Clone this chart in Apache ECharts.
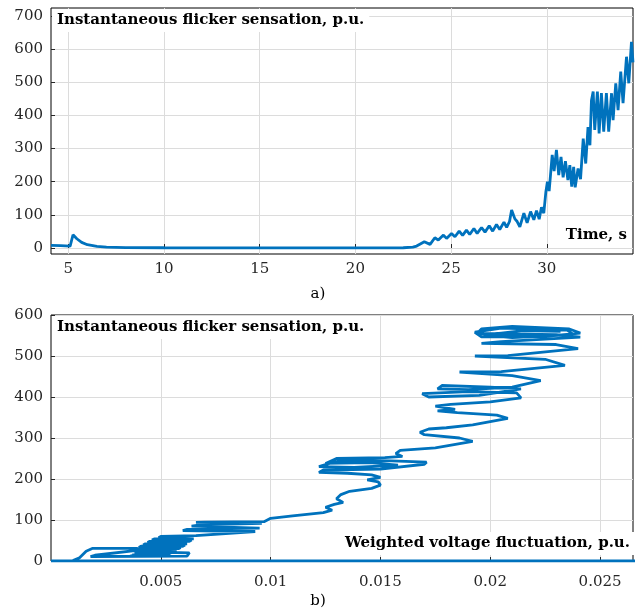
<!DOCTYPE html>
<html lang="en">
<head>
    <meta charset="UTF-8">
    <title>Flicker sensation</title>
    <script src="https://cdn.jsdelivr.net/npm/echarts@6/dist/echarts.min.js"></script>
    <style>
        html, body { margin: 0; padding: 0; background: #fff; }
    </style>
</head>
<body>
<div id="main" style="width: 636px;height:613px;"></div>
<script type="text/javascript">
    // a) flicker sensation vs time
    var timeSec = [4.1, 4.6, 5.1, 5.25, 5.45, 5.7, 6.0, 6.5, 7.0, 8.0, 10, 15, 20, 22.5, 23.0, 23.2, 23.6, 23.9,
        24.15, 24.33, 24.6, 24.76, 25.02, 25.2, 25.42, 25.6, 25.8, 25.97, 26.19, 26.36, 26.59, 26.77, 26.99,
        27.17, 27.37, 27.54, 27.76, 27.9, 28.05, 28.16, 28.33, 28.45, 28.59, 28.8, 28.97, 29.15, 29.32, 29.46,
        29.6, 29.72, 29.84, 29.95, 30.03, 30.12, 30.28, 30.38, 30.5, 30.62, 30.74, 30.85, 30.97, 31.1, 31.2,
        31.3, 31.4, 31.48, 31.63, 31.76, 31.9, 32.03, 32.15, 32.25, 32.33, 32.42, 32.5, 32.64, 32.73, 32.85,
        32.97, 33.11, 33.23, 33.38, 33.46, 33.6, 33.72, 33.86, 33.98, 34.16, 34.28, 34.42, 34.5];
    var flickerA = [8, 7, 6, 40, 28, 17, 10, 5, 3, 1.5, 0.8, 0.5, 0.5, 0.8, 3, 6, 19, 11,
        31, 24, 39, 29, 44, 34, 51, 38, 54, 41, 59, 44, 62, 48, 67,
        51, 71, 56, 78, 62, 80, 115, 88, 80, 64, 105, 76, 110, 85, 113,
        87, 123, 105, 170, 200, 172, 281, 232, 296, 220, 275, 213, 262, 205, 250,
        185, 245, 183, 240, 208, 330, 255, 365, 310, 445, 472, 356, 472, 346, 467,
        351, 467, 351, 467, 386, 497, 416, 532, 437, 577, 497, 622, 560];

    // b) flicker sensation vs weighted voltage fluctuation
    var fluctB = [0, 0.027, 0.0010, 0.0013, 0.0016, 0.0019, 0.0039, 0.0041, 0.0020, 0.0018, 0.0062,
        0.0063, 0.0045,
        0.0036, 0.0052, 0.0053, 0.0037, 0.0037, 0.0054, 0.0055, 0.0038, 0.0038, 0.0056, 0.0057, 0.0039,
        0.0039, 0.0058, 0.0059, 0.0040, 0.0041, 0.0060, 0.0061, 0.0042, 0.0043, 0.0062, 0.0062, 0.0044,
        0.0045, 0.0063, 0.0064, 0.0046, 0.0047, 0.0065, 0.0065, 0.0049, 0.0050, 0.0066,
        0.0093, 0.0060, 0.0062, 0.0095, 0.0064, 0.0068, 0.0096, 0.0066, 0.0070, 0.0097, 0.0100, 0.0110, 0.0124,
        0.0128, 0.0125, 0.0129, 0.0133, 0.0130, 0.0132, 0.0136, 0.0146, 0.0150, 0.0149, 0.0144, 0.0150, 0.0146,
        0.0135, 0.0122, 0.0124, 0.0150, 0.0170, 0.0171, 0.0155, 0.0133, 0.0128, 0.0122, 0.0138, 0.0158, 0.0145,
        0.0125, 0.0130, 0.0152, 0.0160, 0.0157, 0.0159, 0.0175, 0.0192, 0.0186, 0.0170, 0.0168, 0.0172, 0.0180,
        0.0192, 0.0208, 0.0203, 0.0185, 0.0176, 0.0184, 0.0175, 0.0182, 0.0200, 0.0214, 0.0212, 0.0190, 0.0169,
        0.0172, 0.0195, 0.0214, 0.0200, 0.0178, 0.0176, 0.0190, 0.0210, 0.0223, 0.0210, 0.0186, 0.0205, 0.0234,
        0.0225, 0.0193, 0.0208, 0.0240, 0.0230, 0.0196, 0.0205, 0.0241, 0.0230, 0.0194, 0.0196, 0.0210, 0.0236,
        0.0241, 0.0225, 0.0196, 0.0193, 0.0205, 0.0235, 0.0238, 0.0210, 0.0197, 0.0215, 0.0232];
    var flickerB = [0, 0, 1, 8, 24, 31, 31, 27, 14, 11, 12,
        20, 22,
        12, 12, 15, 15, 18, 18, 21, 21, 24, 24, 27, 27,
        30, 30, 33, 33, 36, 36, 39, 39, 42, 42, 45, 45,
        48, 48, 51, 51, 54, 54, 57, 57, 60, 62,
        72, 74, 77, 80, 85, 88, 92, 94, 95, 96, 104, 110, 118,
        124, 131, 138, 143, 152, 162, 170, 177, 185, 193, 198, 204, 210,
        214, 216, 222, 224, 236, 241, 244, 246, 240, 230, 228, 234, 240,
        238, 250, 252, 255, 262, 270, 276, 292, 300, 308, 314, 322, 325,
        332, 348, 356, 362, 366, 370, 378, 382, 388, 398, 410, 413, 408,
        400, 404, 420, 424, 428, 420, 418, 424, 440, 452, 461, 462, 477,
        492, 500, 501, 518, 528, 531, 535, 546, 552, 555, 566, 572, 566,
        556, 548, 547, 558, 568, 563, 552, 545, 551, 562, 560];

    var yTicksA = [0, 100, 200, 300, 400, 500, 600, 700];
    var xTicksA = [5, 10, 15, 20, 25, 30];
    var yTicksB = [0, 100, 200, 300, 400, 500, 600];
    var xTicksB = [0.005, 0.01, 0.015, 0.02, 0.025];

    var seriesA = timeSec.map(function (t, i) { return [t, flickerA[i]]; });
    var seriesB = fluctB.map(function (x, i) { return [x, flickerB[i]]; });

    var serif = '"DejaVu Serif", "Liberation Serif", serif';
    var lineColor = '#0072BD';

    function axisBase(ticks, extra) {
        var a = {
            type: 'value',
            axisLine: {show: false},
            axisTick: {show: true, inside: true, length: 4, customValues: ticks, lineStyle: {color: '#262626'}},
            axisLabel: {customValues: ticks, color: '#262626', fontFamily: serif, fontSize: 15},
            splitLine: {show: true, lineStyle: {color: '#dcdcdc', width: 1}}
        };
        for (var k in extra) a[k] = extra[k];
        return a;
    }

    var chart = echarts.init(document.getElementById('main'));
    var boxText = function (txt, pos) {
        var o = {
            text: txt,
            backgroundColor: '#fff',
            padding: [4, 5, 4, 5],
            textStyle: {fontFamily: serif, fontSize: 15, fontWeight: 'bold', color: '#000'}
        };
        for (var k in pos) o[k] = pos[k];
        return o;
    };

    var option = {
        animation: false,
        backgroundColor: '#fff',
        title: [
            boxText('Instantaneous flicker sensation, p.u.', {left: 52, top: 9}),
            boxText('Time, s', {right: 4, top: 224}),
            boxText('Instantaneous flicker sensation, p.u.', {left: 52, top: 316}),
            boxText('Weighted voltage fluctuation, p.u.', {right: 1, top: 532}),
            {text: 'a)', left: 'center', top: 287, padding: 0,
                textStyle: {fontFamily: serif, fontSize: 15, fontWeight: 'normal', color: '#000'}},
            {text: 'b)', left: 'center', top: 594, padding: 0,
                textStyle: {fontFamily: serif, fontSize: 15, fontWeight: 'normal', color: '#000'}}
        ],
        grid: [
            {left: 51, top: 8, right: 3, height: 246, show: true, borderColor: '#000', borderWidth: 1,
                backgroundColor: 'transparent', outerBoundsMode: 'none'},
            {left: 51, top: 315, right: 3, height: 246, show: true, borderColor: '#000', borderWidth: 1,
                backgroundColor: 'transparent', outerBoundsMode: 'none'}
        ],
        xAxis: [
            axisBase(xTicksA, {gridIndex: 0, min: 4.1, max: 34.5}),
            axisBase(xTicksB, {gridIndex: 1, min: 0, max: 0.0265})
        ],
        yAxis: [
            axisBase(yTicksA, {gridIndex: 0, min: -18, max: 724}),
            axisBase(yTicksB, {gridIndex: 1, min: 0, max: 600})
        ],
        series: [
            {
                type: 'line', xAxisIndex: 0, yAxisIndex: 0, data: seriesA,
                showSymbol: false, symbol: 'none', smooth: false,
                lineStyle: {color: lineColor, width: 2.8}
            },
            {
                type: 'line', xAxisIndex: 1, yAxisIndex: 1, data: seriesB,
                showSymbol: false, symbol: 'none', smooth: false,
                lineStyle: {color: lineColor, width: 2.8}
            }
        ]
    };
    option.xAxis[0].axisLabel.margin = 8;
    option.xAxis[1].axisLabel.margin = 14;
    option.yAxis[0].axisLabel.margin = 8;
    option.yAxis[1].axisLabel.margin = 8;

    chart.setOption(option);
</script>
</body>
</html>
